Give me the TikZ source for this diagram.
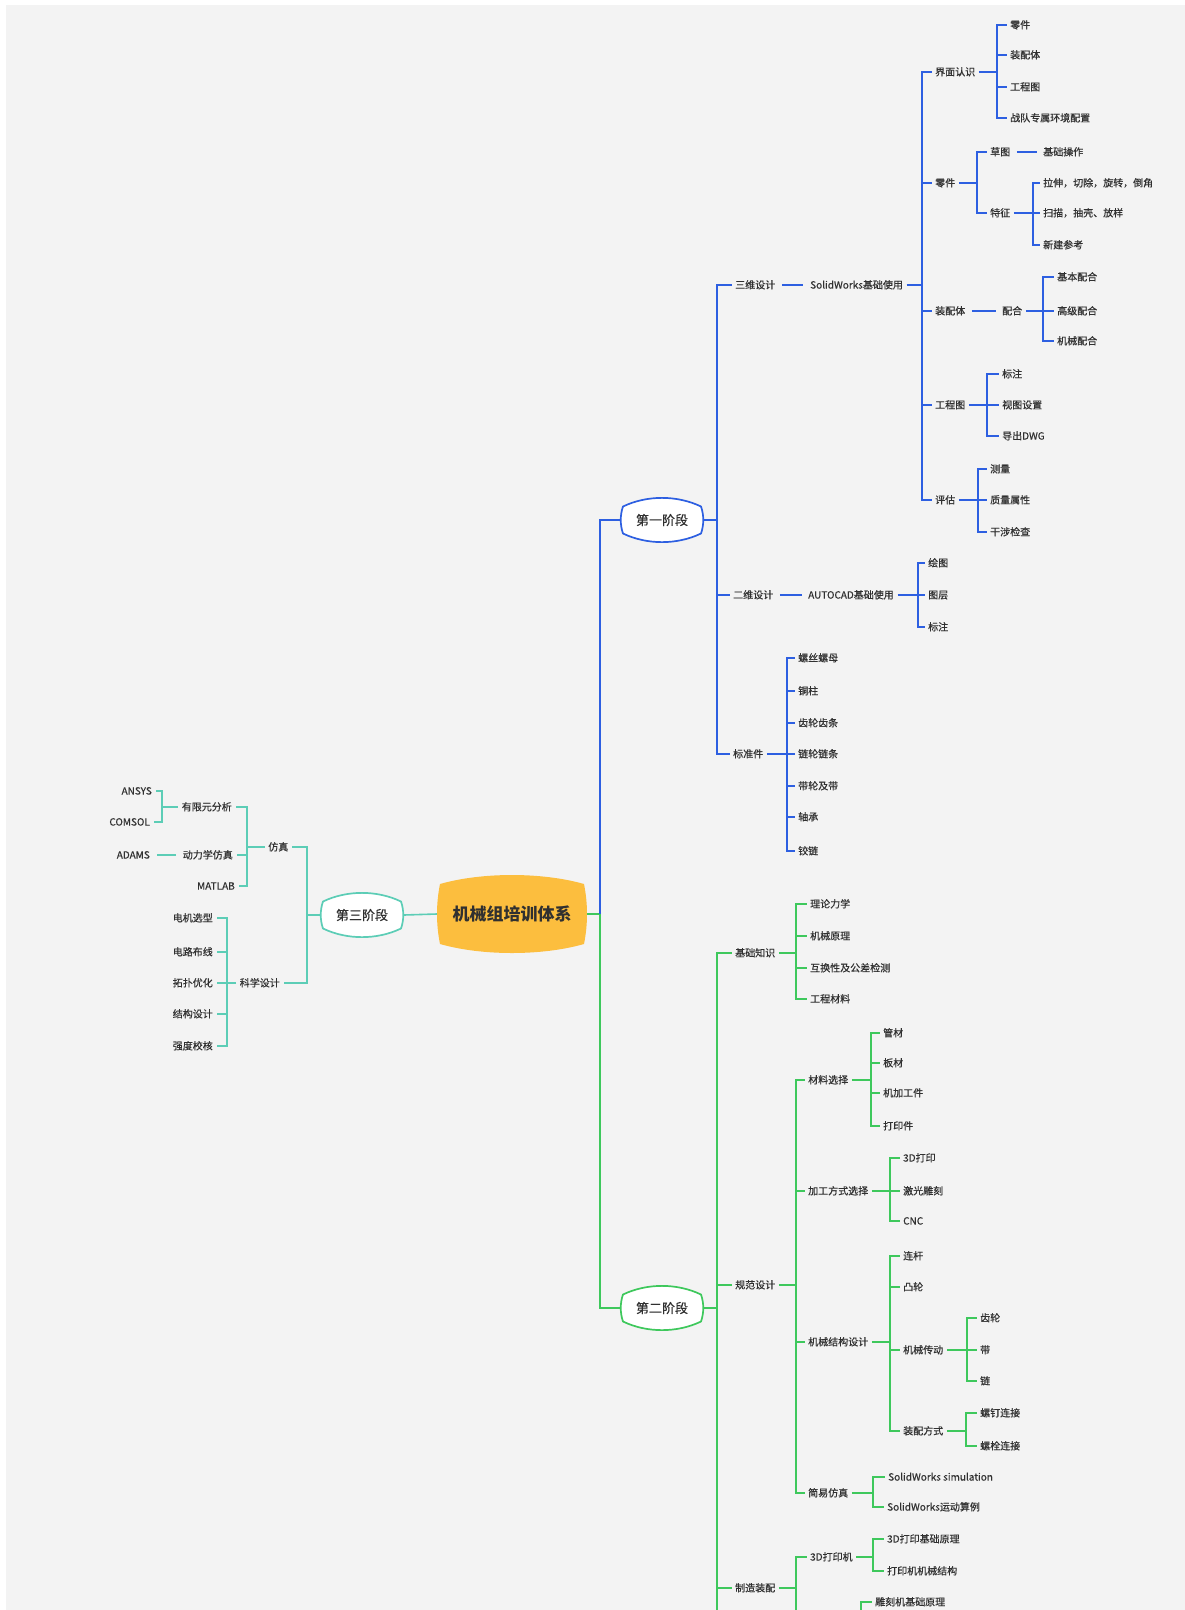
\documentclass[tikz,border=0pt]{standalone}
\usepackage{fontspec}
\setmainfont{Noto Sans CJK SC}
\newfontfamily\lblfont[FakeBold=0.5]{Noto Sans CJK SC}
\definecolor{blueC}{RGB}{45,95,225}
\definecolor{greenC}{RGB}{62,200,92}
\definecolor{tealC}{RGB}{92,205,182}
\definecolor{rootC}{RGB}{252,190,62}
\definecolor{txtC}{RGB}{48,48,48}
\definecolor{paperC}{RGB}{243,243,243}
\tikzset{
  lbl/.style={anchor=west, inner xsep=3.5pt, inner ysep=1pt, text height=8.6pt, text depth=1.4pt,
              font=\lblfont\fontsize{10}{12}\selectfont, text=txtC},
  lblL/.style={lbl, anchor=east},
  bl/.style={draw=blueC, line width=1.6pt},
  gl/.style={draw=greenC, line width=1.6pt},
  tl/.style={draw=tealC, line width=1.6pt},
  stem/.style={line width=2.4pt},
  stagetxt/.style={minimum width=83pt, minimum height=44pt, inner sep=0pt,
                   font=\lblfont\fontsize{13}{15}\selectfont, text=txtC},
  stageline/.style={fill=white, line width=1.7pt},
}
\begin{document}
\begin{tikzpicture}[x=1pt,y=-1pt]
\useasboundingbox (0,0) rectangle (1185,1610);
\fill[white] (0,0) rectangle (1185,1610);
\fill[paperC] (6,5) rectangle (1185,1610);

% ---------- root and stage shapes ----------
\coordinate (cc) at (512,914);
\fill[rootC, shift={(cc)}] (-72,-30) .. controls (-30,-42) and (30,-42) .. (72,-30)
   .. controls (76,-10) and (76,10) .. (72,30) .. controls (30,42) and (-30,42) .. (-72,30)
   .. controls (-76,10) and (-76,-10) .. cycle;
\node[minimum width=150pt, minimum height=78pt, inner sep=0pt, text=txtC,
      font=\fontsize{17}{19}\selectfont\bfseries] (root) at (cc) {机械组培训体系};

\coordinate (c1) at (662,520);
\coordinate (c2) at (662,1308);
\coordinate (c3) at (362,915);
\foreach \cn/\col in {c1/blueC, c2/greenC, c3/tealC}{
  \path[stageline, draw=\col, shift={(\cn)}] (-39,-13.5) .. controls (-15,-25) and (15,-25) .. (39,-13.5)
    .. controls (42,-5) and (42,5) .. (39,13.5) .. controls (15,25) and (-15,25) .. (-39,13.5)
    .. controls (-42,5) and (-42,-5) .. cycle;
}
\node[stagetxt] (s1) at (c1) {第一阶段};
\node[stagetxt] (s2) at (c2) {第二阶段};
\node[stagetxt] (s3) at (c3) {第三阶段};

% ---------- root connections ----------
\coordinate (jc) at (600,914);
\draw[gl] (root.east) -- (jc);
\draw[bl] (jc) |- (s1.west);
\draw[gl] (jc) |- (s2.west);
\draw[tl] (root.west) -- (s3.east);

% ================= first stage (blue) =================
\node[lbl] (sw) at (731.5,285) {三维设计};
\node[lbl] (er) at (729.5,595) {二维设计};
\node[lbl] (bz) at (729.5,754) {标准件};
\coordinate (j1) at (717,520);
\draw[bl] (s1.east) -- (j1);
\foreach \n in {sw,er,bz} \draw[bl] (j1) |- (\n.west);

\node[lbl] (swb) at (806.5,285) {SolidWorks基础使用};
\draw[bl, shorten <=3pt, shorten >=4pt] (sw.east) -- (swb.west);

\node[lbl] (jm) at (931.5,72) {界面认识};
\node[lbl] (lj) at (931.5,183) {零件};
\node[lbl] (zp) at (931.5,311) {装配体};
\node[lbl] (gc) at (931.5,405) {工程图};
\node[lbl] (pg) at (931.5,500) {评估};
\coordinate (j2) at (922,285);
\draw[bl, stem] (swb.east) -- (j2);
\foreach \n in {jm,lj,zp,gc,pg} \draw[bl] (j2) |- (\n.west);

% 界面认识
\node[lbl] (jm1) at (1006.5,25) {零件};
\node[lbl] (jm2) at (1006.5,55) {装配体};
\node[lbl] (jm3) at (1006.5,87) {工程图};
\node[lbl] (jm4) at (1006.5,118) {战队专属环境配置};
\coordinate (j3) at (997,72);
\draw[bl, stem] (jm.east) -- (j3);
\foreach \n in {jm1,jm2,jm3,jm4} \draw[bl] (j3) |- (\n.west);

% 零件
\node[lbl] (cg) at (986.5,152) {草图};
\node[lbl] (tz) at (986.5,213) {特征};
\coordinate (j4) at (977,183);
\draw[bl, stem] (lj.east) -- (j4);
\foreach \n in {cg,tz} \draw[bl] (j4) |- (\n.west);
\node[lbl] (jc1) at (1039.5,152) {基础操作};
\draw[bl, shorten <=3pt, shorten >=3pt] (cg.east) -- (jc1.west);
\node[lbl] (tz1) at (1039.5,183) {拉伸，切除，旋转，倒角};
\node[lbl] (tz2) at (1039.5,213) {扫描，抽壳、放样};
\node[lbl] (tz3) at (1039.5,245) {新建参考};
\coordinate (j5) at (1033,213);
\draw[bl, stem] (tz.east) -- (j5);
\foreach \n in {tz1,tz2,tz3} \draw[bl] (j5) |- (\n.west);

% 装配体
\node[lbl] (ph) at (998.5,311) {配合};
\draw[bl, shorten <=3pt, shorten >=3pt] (zp.east) -- (ph.west);
\node[lbl] (ph1) at (1053.5,277) {基本配合};
\node[lbl] (ph2) at (1053.5,311) {高级配合};
\node[lbl] (ph3) at (1053.5,341) {机械配合};
\coordinate (j6) at (1043,311);
\draw[bl, stem] (ph.east) -- (j6);
\foreach \n in {ph1,ph2,ph3} \draw[bl] (j6) |- (\n.west);

% 工程图
\node[lbl] (gc1) at (998.5,374) {标注};
\node[lbl] (gc2) at (998.5,405) {视图设置};
\node[lbl] (gc3) at (998.5,436) {导出DWG};
\coordinate (j7) at (987,405);
\draw[bl, stem] (gc.east) -- (j7);
\foreach \n in {gc1,gc2,gc3} \draw[bl] (j7) |- (\n.west);

% 评估
\node[lbl] (pg1) at (986.5,469) {测量};
\node[lbl] (pg2) at (986.5,500) {质量属性};
\node[lbl] (pg3) at (986.5,532) {干涉检查};
\coordinate (j8) at (978,500);
\draw[bl, stem] (pg.east) -- (j8);
\foreach \n in {pg1,pg2,pg3} \draw[bl] (j8) |- (\n.west);

% 二维设计
\node[lbl] (ac) at (804.5,595) {AUTOCAD基础使用};
\draw[bl, shorten <=3pt, shorten >=3pt] (er.east) -- (ac.west);
\node[lbl] (ac1) at (924.5,563) {绘图};
\node[lbl] (ac2) at (924.5,595) {图层};
\node[lbl] (ac3) at (924.5,627) {标注};
\coordinate (j9) at (918,595);
\draw[bl, stem] (ac.east) -- (j9);
\foreach \n in {ac1,ac2,ac3} \draw[bl] (j9) |- (\n.west);

% 标准件
\node[lbl] (bz1) at (794.5,658) {螺丝螺母};
\node[lbl] (bz2) at (794.5,691) {铜柱};
\node[lbl] (bz3) at (794.5,723) {齿轮齿条};
\node[lbl] (bz4) at (794.5,754) {链轮链条};
\node[lbl] (bz5) at (794.5,786) {带轮及带};
\node[lbl] (bz6) at (794.5,817) {轴承};
\node[lbl] (bz7) at (794.5,851) {铰链};
\coordinate (j10) at (787,754);
\draw[bl, stem] (bz.east) -- (j10);
\foreach \n in {bz1,bz2,bz3,bz4,bz5,bz6,bz7} \draw[bl] (j10) |- (\n.west);

% ================= second stage (green) =================
\node[lbl] (jz) at (731.5,953) {基础知识};
\node[lbl] (gf) at (731.5,1285) {规范设计};
\node[lbl] (zz) at (731.5,1588) {制造装配};
\coordinate (k1) at (717,1308);
\coordinate (k1e) at (717,1610);
\draw[gl] (s2.east) -- (k1);
\foreach \n in {jz,gf,zz} \draw[gl] (k1) |- (\n.west);
\draw[gl] (k1) -- (k1e);

% 基础知识
\node[lbl] (jz1) at (806.5,904) {理论力学};
\node[lbl] (jz2) at (806.5,936) {机械原理};
\node[lbl] (jz3) at (806.5,968) {互换性及公差检测};
\node[lbl] (jz4) at (806.5,999) {工程材料};
\coordinate (k2) at (796,953);
\draw[gl, stem] (jz.east) -- (k2);
\foreach \n in {jz1,jz2,jz3,jz4} \draw[gl] (k2) |- (\n.west);

% 规范设计
\node[lbl] (gf1) at (804.5,1080) {材料选择};
\node[lbl] (gf2) at (804.5,1191) {加工方式选择};
\node[lbl] (gf3) at (804.5,1342) {机械结构设计};
\node[lbl] (gf4) at (804.5,1493) {简易仿真};
\coordinate (k3) at (796,1285);
\draw[gl, stem] (gf.east) -- (k3);
\foreach \n in {gf1,gf2,gf3,gf4} \draw[gl] (k3) |- (\n.west);

\node[lbl] (cl1) at (879.5,1033) {管材};
\node[lbl] (cl2) at (879.5,1063) {板材};
\node[lbl] (cl3) at (879.5,1093) {机加工件};
\node[lbl] (cl4) at (879.5,1126) {打印件};
\coordinate (k4) at (871,1080);
\draw[gl, stem] (gf1.east) -- (k4);
\foreach \n in {cl1,cl2,cl3,cl4} \draw[gl] (k4) |- (\n.west);

\node[lbl] (jg1) at (899.5,1158) {3D打印};
\node[lbl] (jg2) at (899.5,1191) {激光雕刻};
\node[lbl] (jg3) at (899.5,1221) {CNC};
\coordinate (k5) at (890,1191);
\draw[gl, stem] (gf2.east) -- (k5);
\foreach \n in {jg1,jg2,jg3} \draw[gl] (k5) |- (\n.west);

\node[lbl] (jx1) at (899.5,1256) {连杆};
\node[lbl] (jx2) at (899.5,1287) {凸轮};
\node[lbl] (jx3) at (899.5,1350) {机械传动};
\node[lbl] (jx4) at (899.5,1431) {装配方式};
\coordinate (k6) at (890,1342);
\draw[gl, stem] (gf3.east) -- (k6);
\foreach \n in {jx1,jx2,jx3,jx4} \draw[gl] (k6) |- (\n.west);

\node[lbl] (cd1) at (976.5,1318) {齿轮};
\node[lbl] (cd2) at (976.5,1350) {带};
\node[lbl] (cd3) at (976.5,1381) {链};
\coordinate (k7) at (967,1350);
\draw[gl, stem] (jx3.east) -- (k7);
\foreach \n in {cd1,cd2,cd3} \draw[gl] (k7) |- (\n.west);

\node[lbl] (zf1) at (976.5,1413) {螺钉连接};
\node[lbl] (zf2) at (976.5,1446) {螺栓连接};
\coordinate (k8) at (966,1431);
\draw[gl, stem] (jx4.east) -- (k8);
\foreach \n in {zf1,zf2} \draw[gl] (k8) |- (\n.west);

\node[lbl] (fz1) at (884.5,1477) {SolidWorks simulation};
\node[lbl] (fz2) at (883.5,1507) {SolidWorks运动算例};
\coordinate (k9) at (873,1493);
\draw[gl, stem] (gf4.east) -- (k9);
\foreach \n in {fz1,fz2} \draw[gl] (k9) |- (\n.west);

% 制造装配
\node[lbl] (zz1) at (806.5,1557) {3D打印机};
\coordinate (k10) at (796,1588);
\coordinate (k10e) at (796,1610);
\draw[gl, stem] (zz.east) -- (k10);
\draw[gl] (k10) |- (zz1.west);
\draw[gl] (k10) -- (k10e);
\node[lbl] (dy1) at (883.5,1539) {3D打印基础原理};
\node[lbl] (dy2) at (883.5,1571) {打印机机械结构};
\coordinate (k11) at (873,1557);
\draw[gl, stem] (zz1.east) -- (k11);
\foreach \n in {dy1,dy2} \draw[gl] (k11) |- (\n.west);
\node[lbl] (dk1) at (871.5,1602) {雕刻机基础原理};
\coordinate (k12) at (861,1612);
\draw[gl] (k12) |- (dk1.west);

% ================= third stage (teal) =================
\node[lblL] (fzn) at (292,847) {仿真};
\node[lblL] (kx) at (283.5,983) {科学设计};
\coordinate (t1) at (307,915);
\draw[tl] (s3.west) -- (t1);
\foreach \n in {fzn,kx} \draw[tl] (t1) |- (\n.east);

\node[lblL] (yx) at (235.5,807) {有限元分析};
\node[lblL] (dl) at (236.5,855) {动力学仿真};
\node[lblL] (mt) at (238.5,886) {MATLAB};
\coordinate (t2) at (247,847);
\draw[tl, stem] (fzn.west) -- (t2);
\foreach \n in {yx,dl,mt} \draw[tl] (t2) |- (\n.east);

\node[lblL] (an) at (155.5,791) {ANSYS};
\node[lblL] (cm) at (153.5,822) {COMSOL};
\coordinate (t3) at (162,807);
\draw[tl, stem] (yx.west) -- (t3);
\foreach \n in {an,cm} \draw[tl] (t3) |- (\n.east);

\node[lblL] (ad) at (153.5,855) {ADAMS};
\draw[tl, shorten <=3pt, shorten >=3pt] (dl.west) -- (ad.east);

\node[lblL] (kx1) at (216.5,918) {电机选型};
\node[lblL] (kx2) at (216.5,952) {电路布线};
\node[lblL] (kx3) at (216.5,983) {拓扑优化};
\node[lblL] (kx4) at (216.5,1014) {结构设计};
\node[lblL] (kx5) at (216.5,1046) {强度校核};
\coordinate (t4) at (227,983);
\draw[tl, stem] (kx.west) -- (t4);
\foreach \n in {kx1,kx2,kx3,kx4,kx5} \draw[tl] (t4) |- (\n.east);
\end{tikzpicture}
\end{document}
